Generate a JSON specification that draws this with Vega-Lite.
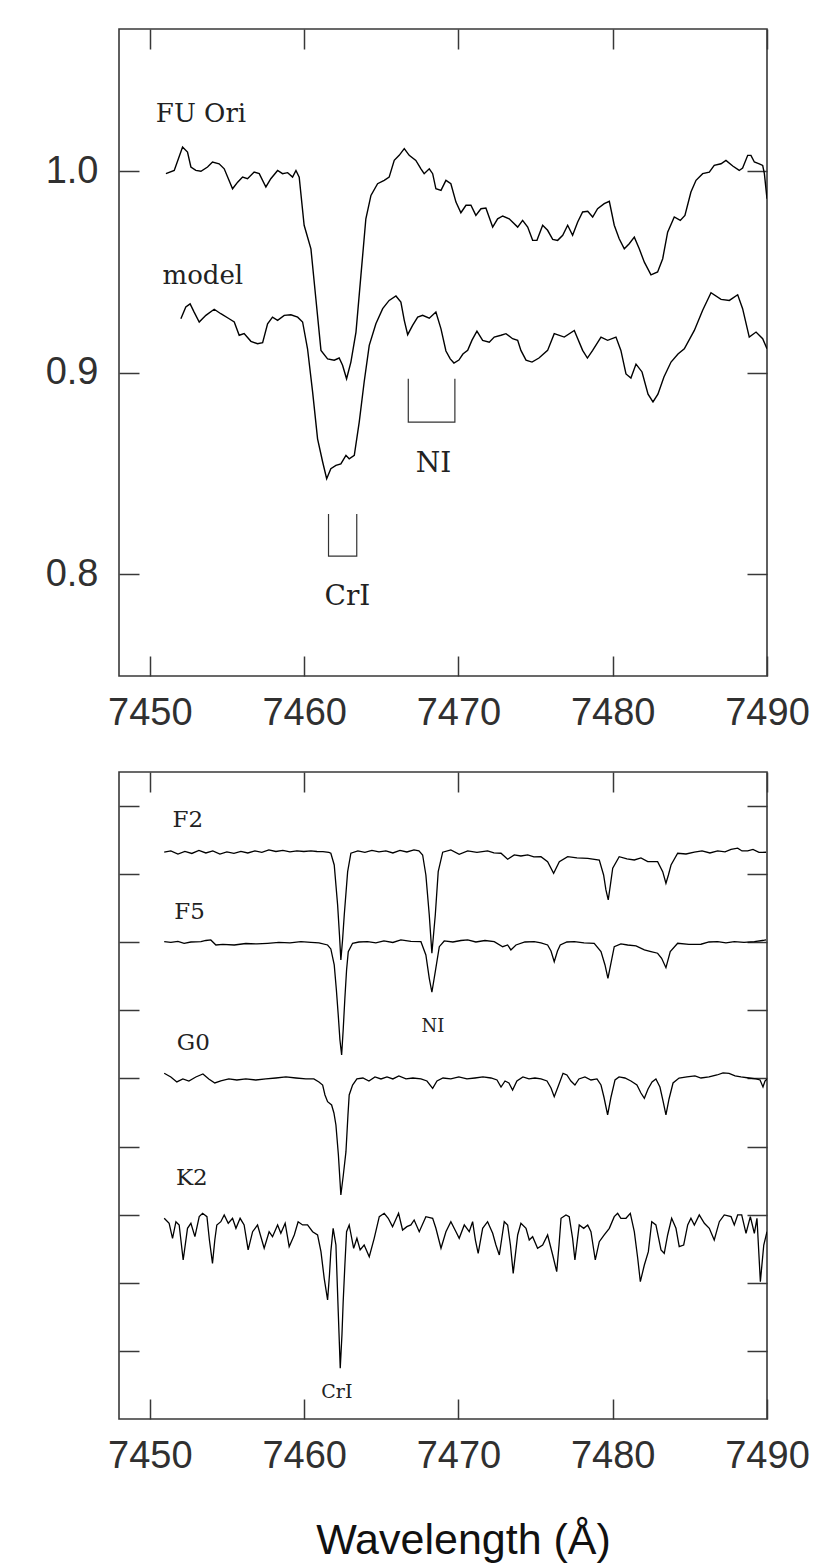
{
"$schema":"https://vega.github.io/schema/vega-lite/v6.json",
"background":"white",
"padding":{"left":44,"top":27,"right":16,"bottom":8},
"autosize":{"type":"pad"},
"spacing":37,
"config":{
 "view":{"stroke":"#383838","strokeWidth":1.6},
 "axis":{"domain":false,"grid":false,"tickColor":"#383838","tickWidth":1.5,"tickSize":20,"offset":-20,"labelFont":"Liberation Sans","labelFontSize":38,"labelColor":"#303030","labelFlush":false,"labelOverlap":false},
 "line":{"color":"black","strokeWidth":1.4},
 "text":{"font":"DejaVu Serif","color":"#222"}
},
"datasets":{
"top":[
{"s":"FU Ori","w":7451.04,"f":0.9987},{"s":"FU Ori","w":7451.58,"f":1.0003},{"s":"FU Ori","w":7452.12,"f":1.0119},{"s":"FU Ori","w":7452.44,"f":1.0094},{"s":"FU Ori","w":7452.66,"f":1.0020},{"s":"FU Ori","w":7452.98,"f":1.0003},{"s":"FU Ori","w":7453.31,"f":0.9999},{"s":"FU Ori","w":7453.74,"f":1.0020},{"s":"FU Ori","w":7454.06,"f":1.0045},{"s":"FU Ori","w":7454.49,"f":1.0036},{"s":"FU Ori","w":7454.82,"f":1.0011},{"s":"FU Ori","w":7455.36,"f":0.9912},{"s":"FU Ori","w":7455.69,"f":0.9945},{"s":"FU Ori","w":7456.01,"f":0.9970},{"s":"FU Ori","w":7456.33,"f":0.9962},{"s":"FU Ori","w":7456.76,"f":0.9995},{"s":"FU Ori","w":7457.09,"f":0.9987},{"s":"FU Ori","w":7457.52,"f":0.9921},{"s":"FU Ori","w":7457.84,"f":0.9962},{"s":"FU Ori","w":7458.28,"f":1.0003},{"s":"FU Ori","w":7458.60,"f":0.9987},{"s":"FU Ori","w":7458.93,"f":0.9992},{"s":"FU Ori","w":7459.25,"f":0.9970},{"s":"FU Ori","w":7459.47,"f":1.0003},{"s":"FU Ori","w":7459.68,"f":0.9970},{"s":"FU Ori","w":7460.00,"f":0.9731},{"s":"FU Ori","w":7460.44,"f":0.9614},{"s":"FU Ori","w":7460.76,"f":0.9366},{"s":"FU Ori","w":7461.09,"f":0.9110},{"s":"FU Ori","w":7461.52,"f":0.9068},{"s":"FU Ori","w":7461.95,"f":0.9061},{"s":"FU Ori","w":7462.27,"f":0.9072},{"s":"FU Ori","w":7462.49,"f":0.9036},{"s":"FU Ori","w":7462.75,"f":0.8969},{"s":"FU Ori","w":7463.03,"f":0.9052},{"s":"FU Ori","w":7463.36,"f":0.9201},{"s":"FU Ori","w":7463.68,"f":0.9482},{"s":"FU Ori","w":7464.00,"f":0.9763},{"s":"FU Ori","w":7464.33,"f":0.9879},{"s":"FU Ori","w":7464.76,"f":0.9937},{"s":"FU Ori","w":7465.19,"f":0.9954},{"s":"FU Ori","w":7465.51,"f":0.9970},{"s":"FU Ori","w":7465.84,"f":1.0053},{"s":"FU Ori","w":7466.16,"f":1.0078},{"s":"FU Ori","w":7466.49,"f":1.0111},{"s":"FU Ori","w":7466.81,"f":1.0078},{"s":"FU Ori","w":7467.24,"f":1.0053},{"s":"FU Ori","w":7467.57,"f":1.0011},{"s":"FU Ori","w":7467.78,"f":0.9987},{"s":"FU Ori","w":7468.11,"f":1.0011},{"s":"FU Ori","w":7468.33,"f":0.9987},{"s":"FU Ori","w":7468.54,"f":0.9912},{"s":"FU Ori","w":7468.87,"f":0.9904},{"s":"FU Ori","w":7469.19,"f":0.9954},{"s":"FU Ori","w":7469.51,"f":0.9937},{"s":"FU Ori","w":7469.84,"f":0.9846},{"s":"FU Ori","w":7470.16,"f":0.9793},{"s":"FU Ori","w":7470.49,"f":0.9830},{"s":"FU Ori","w":7470.81,"f":0.9830},{"s":"FU Ori","w":7471.13,"f":0.9780},{"s":"FU Ori","w":7471.46,"f":0.9813},{"s":"FU Ori","w":7471.78,"f":0.9816},{"s":"FU Ori","w":7472.22,"f":0.9722},{"s":"FU Ori","w":7472.54,"f":0.9763},{"s":"FU Ori","w":7472.87,"f":0.9777},{"s":"FU Ori","w":7473.29,"f":0.9763},{"s":"FU Ori","w":7473.84,"f":0.9722},{"s":"FU Ori","w":7474.16,"f":0.9755},{"s":"FU Ori","w":7474.49,"f":0.9722},{"s":"FU Ori","w":7474.81,"f":0.9656},{"s":"FU Ori","w":7475.09,"f":0.9656},{"s":"FU Ori","w":7475.46,"f":0.9731},{"s":"FU Ori","w":7475.78,"f":0.9706},{"s":"FU Ori","w":7476.11,"f":0.9661},{"s":"FU Ori","w":7476.43,"f":0.9656},{"s":"FU Ori","w":7476.76,"f":0.9681},{"s":"FU Ori","w":7477.08,"f":0.9731},{"s":"FU Ori","w":7477.40,"f":0.9681},{"s":"FU Ori","w":7477.73,"f":0.9747},{"s":"FU Ori","w":7478.05,"f":0.9797},{"s":"FU Ori","w":7478.38,"f":0.9800},{"s":"FU Ori","w":7478.70,"f":0.9772},{"s":"FU Ori","w":7479.02,"f":0.9813},{"s":"FU Ori","w":7479.45,"f":0.9838},{"s":"FU Ori","w":7479.78,"f":0.9850},{"s":"FU Ori","w":7480.10,"f":0.9731},{"s":"FU Ori","w":7480.42,"f":0.9664},{"s":"FU Ori","w":7480.75,"f":0.9614},{"s":"FU Ori","w":7481.07,"f":0.9639},{"s":"FU Ori","w":7481.40,"f":0.9672},{"s":"FU Ori","w":7481.72,"f":0.9614},{"s":"FU Ori","w":7482.05,"f":0.9548},{"s":"FU Ori","w":7482.48,"f":0.9485},{"s":"FU Ori","w":7482.91,"f":0.9499},{"s":"FU Ori","w":7483.24,"f":0.9565},{"s":"FU Ori","w":7483.56,"f":0.9697},{"s":"FU Ori","w":7483.99,"f":0.9772},{"s":"FU Ori","w":7484.38,"f":0.9755},{"s":"FU Ori","w":7484.68,"f":0.9780},{"s":"FU Ori","w":7485.07,"f":0.9896},{"s":"FU Ori","w":7485.40,"f":0.9954},{"s":"FU Ori","w":7485.83,"f":0.9987},{"s":"FU Ori","w":7486.26,"f":0.9995},{"s":"FU Ori","w":7486.58,"f":1.0028},{"s":"FU Ori","w":7487.02,"f":1.0036},{"s":"FU Ori","w":7487.34,"f":1.0053},{"s":"FU Ori","w":7487.78,"f":1.0025},{"s":"FU Ori","w":7488.20,"f":1.0003},{"s":"FU Ori","w":7488.42,"f":1.0015},{"s":"FU Ori","w":7488.75,"f":1.0078},{"s":"FU Ori","w":7488.96,"f":1.0078},{"s":"FU Ori","w":7489.18,"f":1.0045},{"s":"FU Ori","w":7489.50,"f":1.0036},{"s":"FU Ori","w":7489.72,"f":1.0028},{"s":"FU Ori","w":7489.83,"f":0.9987},{"s":"FU Ori","w":7490.00,"f":0.9863},
{"s":"model","w":7452.01,"f":0.9267},{"s":"model","w":7452.33,"f":0.9325},{"s":"model","w":7452.61,"f":0.9341},{"s":"model","w":7452.87,"f":0.9300},{"s":"model","w":7453.20,"f":0.9251},{"s":"model","w":7453.63,"f":0.9284},{"s":"model","w":7454.17,"f":0.9314},{"s":"model","w":7454.60,"f":0.9292},{"s":"model","w":7455.14,"f":0.9267},{"s":"model","w":7455.47,"f":0.9251},{"s":"model","w":7455.79,"f":0.9185},{"s":"model","w":7456.11,"f":0.9193},{"s":"model","w":7456.55,"f":0.9155},{"s":"model","w":7456.98,"f":0.9143},{"s":"model","w":7457.31,"f":0.9148},{"s":"model","w":7457.63,"f":0.9242},{"s":"model","w":7457.95,"f":0.9275},{"s":"model","w":7458.28,"f":0.9259},{"s":"model","w":7458.71,"f":0.9284},{"s":"model","w":7459.14,"f":0.9287},{"s":"model","w":7459.58,"f":0.9275},{"s":"model","w":7459.90,"f":0.9251},{"s":"model","w":7460.22,"f":0.9118},{"s":"model","w":7460.55,"f":0.8903},{"s":"model","w":7460.87,"f":0.8671},{"s":"model","w":7461.20,"f":0.8556},{"s":"model","w":7461.46,"f":0.8473},{"s":"model","w":7461.73,"f":0.8523},{"s":"model","w":7462.06,"f":0.8539},{"s":"model","w":7462.38,"f":0.8547},{"s":"model","w":7462.71,"f":0.8589},{"s":"model","w":7462.92,"f":0.8572},{"s":"model","w":7463.25,"f":0.8589},{"s":"model","w":7463.57,"f":0.8754},{"s":"model","w":7463.89,"f":0.8953},{"s":"model","w":7464.22,"f":0.9135},{"s":"model","w":7464.65,"f":0.9242},{"s":"model","w":7465.09,"f":0.9317},{"s":"model","w":7465.51,"f":0.9358},{"s":"model","w":7465.95,"f":0.9380},{"s":"model","w":7466.27,"f":0.9350},{"s":"model","w":7466.49,"f":0.9259},{"s":"model","w":7466.71,"f":0.9188},{"s":"model","w":7467.03,"f":0.9234},{"s":"model","w":7467.36,"f":0.9275},{"s":"model","w":7467.68,"f":0.9284},{"s":"model","w":7468.11,"f":0.9270},{"s":"model","w":7468.54,"f":0.9300},{"s":"model","w":7468.87,"f":0.9217},{"s":"model","w":7469.19,"f":0.9107},{"s":"model","w":7469.47,"f":0.9068},{"s":"model","w":7469.71,"f":0.9047},{"s":"model","w":7470.03,"f":0.9062},{"s":"model","w":7470.29,"f":0.9092},{"s":"model","w":7470.60,"f":0.9110},{"s":"model","w":7470.88,"f":0.9161},{"s":"model","w":7471.20,"f":0.9205},{"s":"model","w":7471.57,"f":0.9160},{"s":"model","w":7472.00,"f":0.9151},{"s":"model","w":7472.32,"f":0.9176},{"s":"model","w":7472.76,"f":0.9185},{"s":"model","w":7473.08,"f":0.9193},{"s":"model","w":7473.51,"f":0.9168},{"s":"model","w":7473.84,"f":0.9160},{"s":"model","w":7474.05,"f":0.9110},{"s":"model","w":7474.38,"f":0.9062},{"s":"model","w":7474.77,"f":0.9052},{"s":"model","w":7475.22,"f":0.9072},{"s":"model","w":7475.78,"f":0.9110},{"s":"model","w":7476.21,"f":0.9193},{"s":"model","w":7476.86,"f":0.9176},{"s":"model","w":7477.51,"f":0.9209},{"s":"model","w":7478.05,"f":0.9110},{"s":"model","w":7478.36,"f":0.9072},{"s":"model","w":7478.70,"f":0.9110},{"s":"model","w":7479.24,"f":0.9176},{"s":"model","w":7479.67,"f":0.9160},{"s":"model","w":7480.21,"f":0.9176},{"s":"model","w":7480.53,"f":0.9110},{"s":"model","w":7480.86,"f":0.8993},{"s":"model","w":7481.18,"f":0.8973},{"s":"model","w":7481.51,"f":0.9042},{"s":"model","w":7481.90,"f":0.9003},{"s":"model","w":7482.29,"f":0.8893},{"s":"model","w":7482.61,"f":0.8854},{"s":"model","w":7482.93,"f":0.8893},{"s":"model","w":7483.32,"f":0.8978},{"s":"model","w":7483.78,"f":0.9052},{"s":"model","w":7484.23,"f":0.9092},{"s":"model","w":7484.64,"f":0.9118},{"s":"model","w":7485.29,"f":0.9209},{"s":"model","w":7485.83,"f":0.9309},{"s":"model","w":7486.37,"f":0.9396},{"s":"model","w":7487.02,"f":0.9363},{"s":"model","w":7487.56,"f":0.9358},{"s":"model","w":7488.10,"f":0.9386},{"s":"model","w":7488.42,"f":0.9317},{"s":"model","w":7488.85,"f":0.9176},{"s":"model","w":7489.29,"f":0.9201},{"s":"model","w":7489.72,"f":0.9168},{"s":"model","w":7490.00,"f":0.9118}
],
"bot":[
{"s":"F2","w":7450.93,"f":0.8322},{"s":"F2","w":7451.36,"f":0.8341},{"s":"F2","w":7451.82,"f":0.8296},{"s":"F2","w":7452.27,"f":0.8333},{"s":"F2","w":7452.72,"f":0.8304},{"s":"F2","w":7453.18,"f":0.8348},{"s":"F2","w":7453.63,"f":0.8311},{"s":"F2","w":7454.08,"f":0.8341},{"s":"F2","w":7454.54,"f":0.8296},{"s":"F2","w":7454.99,"f":0.8326},{"s":"F2","w":7455.45,"f":0.8304},{"s":"F2","w":7455.90,"f":0.8333},{"s":"F2","w":7456.35,"f":0.8311},{"s":"F2","w":7456.81,"f":0.8341},{"s":"F2","w":7457.26,"f":0.8319},{"s":"F2","w":7457.71,"f":0.8355},{"s":"F2","w":7458.17,"f":0.8333},{"s":"F2","w":7458.62,"f":0.8348},{"s":"F2","w":7459.08,"f":0.8326},{"s":"F2","w":7459.53,"f":0.8341},{"s":"F2","w":7459.98,"f":0.8333},{"s":"F2","w":7460.44,"f":0.8341},{"s":"F2","w":7460.83,"f":0.8333},{"s":"F2","w":7461.22,"f":0.8332},{"s":"F2","w":7461.60,"f":0.8319},{"s":"F2","w":7461.73,"f":0.8307},{"s":"F2","w":7461.95,"f":0.8135},{"s":"F2","w":7462.17,"f":0.7548},{"s":"F2","w":7462.29,"f":0.7107},{"s":"F2","w":7462.38,"f":0.6740},{"s":"F2","w":7462.49,"f":0.7034},{"s":"F2","w":7462.60,"f":0.7401},{"s":"F2","w":7462.82,"f":0.8037},{"s":"F2","w":7463.03,"f":0.8307},{"s":"F2","w":7463.48,"f":0.8341},{"s":"F2","w":7463.94,"f":0.8319},{"s":"F2","w":7464.39,"f":0.8348},{"s":"F2","w":7464.85,"f":0.8326},{"s":"F2","w":7465.30,"f":0.8341},{"s":"F2","w":7465.75,"f":0.8311},{"s":"F2","w":7466.21,"f":0.8348},{"s":"F2","w":7466.66,"f":0.8326},{"s":"F2","w":7467.12,"f":0.8355},{"s":"F2","w":7467.44,"f":0.8341},{"s":"F2","w":7467.68,"f":0.8282},{"s":"F2","w":7467.89,"f":0.7988},{"s":"F2","w":7468.11,"f":0.7401},{"s":"F2","w":7468.28,"f":0.6839},{"s":"F2","w":7468.50,"f":0.7401},{"s":"F2","w":7468.69,"f":0.8037},{"s":"F2","w":7468.98,"f":0.8322},{"s":"F2","w":7469.51,"f":0.8355},{"s":"F2","w":7470.05,"f":0.8292},{"s":"F2","w":7470.60,"f":0.8341},{"s":"F2","w":7471.20,"f":0.8319},{"s":"F2","w":7471.89,"f":0.8341},{"s":"F2","w":7472.30,"f":0.8311},{"s":"F2","w":7472.76,"f":0.8307},{"s":"F2","w":7473.19,"f":0.8219},{"s":"F2","w":7473.62,"f":0.8282},{"s":"F2","w":7474.05,"f":0.8267},{"s":"F2","w":7474.49,"f":0.8282},{"s":"F2","w":7474.89,"f":0.8253},{"s":"F2","w":7475.35,"f":0.8257},{"s":"F2","w":7475.78,"f":0.8184},{"s":"F2","w":7476.17,"f":0.8013},{"s":"F2","w":7476.54,"f":0.8184},{"s":"F2","w":7477.08,"f":0.8257},{"s":"F2","w":7477.68,"f":0.8238},{"s":"F2","w":7478.38,"f":0.8233},{"s":"F2","w":7479.13,"f":0.8208},{"s":"F2","w":7479.41,"f":0.7988},{"s":"F2","w":7479.56,"f":0.7768},{"s":"F2","w":7479.71,"f":0.7621},{"s":"F2","w":7479.85,"f":0.7842},{"s":"F2","w":7480.00,"f":0.8087},{"s":"F2","w":7480.42,"f":0.8257},{"s":"F2","w":7480.92,"f":0.8223},{"s":"F2","w":7481.40,"f":0.8208},{"s":"F2","w":7481.83,"f":0.8238},{"s":"F2","w":7482.27,"f":0.8184},{"s":"F2","w":7482.91,"f":0.8184},{"s":"F2","w":7483.24,"f":0.8037},{"s":"F2","w":7483.45,"f":0.7866},{"s":"F2","w":7483.61,"f":0.7988},{"s":"F2","w":7483.78,"f":0.8135},{"s":"F2","w":7484.21,"f":0.8307},{"s":"F2","w":7484.75,"f":0.8296},{"s":"F2","w":7485.29,"f":0.8322},{"s":"F2","w":7485.79,"f":0.8341},{"s":"F2","w":7486.30,"f":0.8311},{"s":"F2","w":7486.80,"f":0.8341},{"s":"F2","w":7487.28,"f":0.8326},{"s":"F2","w":7487.67,"f":0.8363},{"s":"F2","w":7488.10,"f":0.8381},{"s":"F2","w":7488.38,"f":0.8341},{"s":"F2","w":7488.75,"f":0.8341},{"s":"F2","w":7489.09,"f":0.8363},{"s":"F2","w":7489.48,"f":0.8319},{"s":"F2","w":7489.94,"f":0.8322},
{"s":"F5","w":7450.93,"f":0.7009},{"s":"F5","w":7451.36,"f":0.6997},{"s":"F5","w":7451.82,"f":0.7012},{"s":"F5","w":7452.22,"f":0.6985},{"s":"F5","w":7452.66,"f":0.7004},{"s":"F5","w":7453.31,"f":0.7009},{"s":"F5","w":7453.63,"f":0.7026},{"s":"F5","w":7453.95,"f":0.7034},{"s":"F5","w":7454.28,"f":0.6960},{"s":"F5","w":7454.73,"f":0.6968},{"s":"F5","w":7455.47,"f":0.6960},{"s":"F5","w":7456.22,"f":0.6982},{"s":"F5","w":7456.94,"f":0.6975},{"s":"F5","w":7457.63,"f":0.6985},{"s":"F5","w":7458.36,"f":0.6997},{"s":"F5","w":7459.08,"f":0.6990},{"s":"F5","w":7459.79,"f":0.7009},{"s":"F5","w":7460.44,"f":0.6997},{"s":"F5","w":7460.96,"f":0.6990},{"s":"F5","w":7461.52,"f":0.6960},{"s":"F5","w":7461.73,"f":0.6902},{"s":"F5","w":7461.95,"f":0.6667},{"s":"F5","w":7462.09,"f":0.6300},{"s":"F5","w":7462.21,"f":0.5932},{"s":"F5","w":7462.32,"f":0.5565},{"s":"F5","w":7462.43,"f":0.5345},{"s":"F5","w":7462.53,"f":0.5712},{"s":"F5","w":7462.64,"f":0.6178},{"s":"F5","w":7462.75,"f":0.6593},{"s":"F5","w":7462.86,"f":0.6862},{"s":"F5","w":7463.14,"f":0.6985},{"s":"F5","w":7463.55,"f":0.7004},{"s":"F5","w":7464.11,"f":0.7009},{"s":"F5","w":7464.65,"f":0.6990},{"s":"F5","w":7465.17,"f":0.7019},{"s":"F5","w":7465.75,"f":0.6997},{"s":"F5","w":7466.27,"f":0.7034},{"s":"F5","w":7466.92,"f":0.7012},{"s":"F5","w":7467.57,"f":0.7009},{"s":"F5","w":7467.89,"f":0.6813},{"s":"F5","w":7468.11,"f":0.6471},{"s":"F5","w":7468.28,"f":0.6266},{"s":"F5","w":7468.50,"f":0.6568},{"s":"F5","w":7468.76,"f":0.6935},{"s":"F5","w":7469.08,"f":0.7019},{"s":"F5","w":7469.64,"f":0.7004},{"s":"F5","w":7470.16,"f":0.7026},{"s":"F5","w":7470.60,"f":0.7034},{"s":"F5","w":7471.13,"f":0.7004},{"s":"F5","w":7471.72,"f":0.7026},{"s":"F5","w":7472.32,"f":0.7009},{"s":"F5","w":7472.87,"f":0.6935},{"s":"F5","w":7473.19,"f":0.6960},{"s":"F5","w":7473.40,"f":0.6887},{"s":"F5","w":7473.73,"f":0.6960},{"s":"F5","w":7474.31,"f":0.7004},{"s":"F5","w":7474.91,"f":0.7009},{"s":"F5","w":7475.35,"f":0.6990},{"s":"F5","w":7475.78,"f":0.6960},{"s":"F5","w":7476.00,"f":0.6872},{"s":"F5","w":7476.21,"f":0.6715},{"s":"F5","w":7476.42,"f":0.6872},{"s":"F5","w":7476.60,"f":0.6960},{"s":"F5","w":7477.03,"f":0.7004},{"s":"F5","w":7477.51,"f":0.7009},{"s":"F5","w":7478.14,"f":0.6990},{"s":"F5","w":7478.80,"f":0.6985},{"s":"F5","w":7479.24,"f":0.6862},{"s":"F5","w":7479.50,"f":0.6667},{"s":"F5","w":7479.69,"f":0.6471},{"s":"F5","w":7479.89,"f":0.6696},{"s":"F5","w":7480.10,"f":0.6935},{"s":"F5","w":7480.53,"f":0.6975},{"s":"F5","w":7480.97,"f":0.6960},{"s":"F5","w":7481.51,"f":0.6946},{"s":"F5","w":7482.05,"f":0.6887},{"s":"F5","w":7482.48,"f":0.6862},{"s":"F5","w":7482.91,"f":0.6839},{"s":"F5","w":7483.17,"f":0.6765},{"s":"F5","w":7483.45,"f":0.6627},{"s":"F5","w":7483.73,"f":0.6862},{"s":"F5","w":7484.21,"f":0.6985},{"s":"F5","w":7484.94,"f":0.6968},{"s":"F5","w":7485.72,"f":0.6971},{"s":"F5","w":7486.24,"f":0.7004},{"s":"F5","w":7486.80,"f":0.7009},{"s":"F5","w":7487.34,"f":0.6990},{"s":"F5","w":7487.88,"f":0.7009},{"s":"F5","w":7488.51,"f":0.6997},{"s":"F5","w":7489.18,"f":0.7009},{"s":"F5","w":7489.94,"f":0.7034},
{"s":"G0","w":7450.93,"f":0.5076},{"s":"G0","w":7451.36,"f":0.5022},{"s":"G0","w":7451.75,"f":0.4949},{"s":"G0","w":7452.14,"f":0.4993},{"s":"G0","w":7452.53,"f":0.4963},{"s":"G0","w":7452.98,"f":0.5022},{"s":"G0","w":7453.44,"f":0.5066},{"s":"G0","w":7453.82,"f":0.4993},{"s":"G0","w":7454.21,"f":0.4934},{"s":"G0","w":7454.60,"f":0.4963},{"s":"G0","w":7455.12,"f":0.4993},{"s":"G0","w":7455.64,"f":0.4978},{"s":"G0","w":7456.22,"f":0.4993},{"s":"G0","w":7456.87,"f":0.4978},{"s":"G0","w":7457.52,"f":0.4993},{"s":"G0","w":7458.17,"f":0.5007},{"s":"G0","w":7458.82,"f":0.5022},{"s":"G0","w":7459.47,"f":0.5007},{"s":"G0","w":7460.11,"f":0.4993},{"s":"G0","w":7460.63,"f":0.4993},{"s":"G0","w":7460.96,"f":0.4949},{"s":"G0","w":7461.20,"f":0.4904},{"s":"G0","w":7461.35,"f":0.4758},{"s":"G0","w":7461.52,"f":0.4659},{"s":"G0","w":7461.78,"f":0.4611},{"s":"G0","w":7461.93,"f":0.4493},{"s":"G0","w":7462.06,"f":0.4317},{"s":"G0","w":7462.22,"f":0.3877},{"s":"G0","w":7462.38,"f":0.3289},{"s":"G0","w":7462.54,"f":0.3583},{"s":"G0","w":7462.71,"f":0.3925},{"s":"G0","w":7462.84,"f":0.4464},{"s":"G0","w":7462.92,"f":0.4758},{"s":"G0","w":7463.14,"f":0.4904},{"s":"G0","w":7463.42,"f":0.4993},{"s":"G0","w":7463.81,"f":0.5007},{"s":"G0","w":7464.20,"f":0.4963},{"s":"G0","w":7464.59,"f":0.5022},{"s":"G0","w":7464.98,"f":0.4993},{"s":"G0","w":7465.37,"f":0.5022},{"s":"G0","w":7465.75,"f":0.4993},{"s":"G0","w":7466.14,"f":0.5037},{"s":"G0","w":7466.60,"f":0.4993},{"s":"G0","w":7467.05,"f":0.5007},{"s":"G0","w":7467.57,"f":0.4993},{"s":"G0","w":7467.96,"f":0.4963},{"s":"G0","w":7468.33,"f":0.4856},{"s":"G0","w":7468.61,"f":0.4963},{"s":"G0","w":7469.00,"f":0.5007},{"s":"G0","w":7469.51,"f":0.4993},{"s":"G0","w":7470.03,"f":0.5022},{"s":"G0","w":7470.55,"f":0.4993},{"s":"G0","w":7471.07,"f":0.5007},{"s":"G0","w":7471.59,"f":0.5022},{"s":"G0","w":7472.11,"f":0.5007},{"s":"G0","w":7472.50,"f":0.4978},{"s":"G0","w":7472.76,"f":0.4875},{"s":"G0","w":7473.02,"f":0.4963},{"s":"G0","w":7473.27,"f":0.4934},{"s":"G0","w":7473.51,"f":0.4831},{"s":"G0","w":7473.79,"f":0.4963},{"s":"G0","w":7474.18,"f":0.5022},{"s":"G0","w":7474.57,"f":0.4993},{"s":"G0","w":7474.96,"f":0.5007},{"s":"G0","w":7475.35,"f":0.4993},{"s":"G0","w":7475.74,"f":0.4963},{"s":"G0","w":7476.00,"f":0.4860},{"s":"G0","w":7476.21,"f":0.4733},{"s":"G0","w":7476.45,"f":0.4875},{"s":"G0","w":7476.78,"f":0.5076},{"s":"G0","w":7477.03,"f":0.5051},{"s":"G0","w":7477.29,"f":0.4963},{"s":"G0","w":7477.55,"f":0.4904},{"s":"G0","w":7477.81,"f":0.4993},{"s":"G0","w":7478.20,"f":0.5022},{"s":"G0","w":7478.59,"f":0.4978},{"s":"G0","w":7478.98,"f":0.4993},{"s":"G0","w":7479.24,"f":0.4904},{"s":"G0","w":7479.43,"f":0.4728},{"s":"G0","w":7479.67,"f":0.4464},{"s":"G0","w":7479.89,"f":0.4728},{"s":"G0","w":7480.15,"f":0.4978},{"s":"G0","w":7480.41,"f":0.5022},{"s":"G0","w":7480.79,"f":0.5007},{"s":"G0","w":7481.18,"f":0.4963},{"s":"G0","w":7481.57,"f":0.4904},{"s":"G0","w":7481.83,"f":0.4787},{"s":"G0","w":7482.05,"f":0.4709},{"s":"G0","w":7482.29,"f":0.4846},{"s":"G0","w":7482.55,"f":0.4949},{"s":"G0","w":7482.80,"f":0.4993},{"s":"G0","w":7483.06,"f":0.4875},{"s":"G0","w":7483.26,"f":0.4670},{"s":"G0","w":7483.45,"f":0.4464},{"s":"G0","w":7483.65,"f":0.4699},{"s":"G0","w":7483.91,"f":0.4934},{"s":"G0","w":7484.30,"f":0.5007},{"s":"G0","w":7484.81,"f":0.5022},{"s":"G0","w":7485.33,"f":0.5037},{"s":"G0","w":7485.72,"f":0.5007},{"s":"G0","w":7486.24,"f":0.5022},{"s":"G0","w":7486.76,"f":0.5051},{"s":"G0","w":7487.15,"f":0.5081},{"s":"G0","w":7487.54,"f":0.5076},{"s":"G0","w":7487.93,"f":0.5037},{"s":"G0","w":7488.31,"f":0.5022},{"s":"G0","w":7488.83,"f":0.5007},{"s":"G0","w":7489.29,"f":0.4993},{"s":"G0","w":7489.55,"f":0.4978},{"s":"G0","w":7489.74,"f":0.4875},{"s":"G0","w":7489.87,"f":0.4963},{"s":"G0","w":7490.00,"f":0.4993},
{"s":"K2","w":7450.93,"f":0.2947},{"s":"K2","w":7451.25,"f":0.2874},{"s":"K2","w":7451.47,"f":0.2653},{"s":"K2","w":7451.69,"f":0.2897},{"s":"K2","w":7451.90,"f":0.2849},{"s":"K2","w":7452.16,"f":0.2335},{"s":"K2","w":7452.44,"f":0.2800},{"s":"K2","w":7452.66,"f":0.2874},{"s":"K2","w":7452.92,"f":0.2677},{"s":"K2","w":7453.20,"f":0.2971},{"s":"K2","w":7453.42,"f":0.3020},{"s":"K2","w":7453.70,"f":0.2971},{"s":"K2","w":7453.86,"f":0.2628},{"s":"K2","w":7454.06,"f":0.2286},{"s":"K2","w":7454.21,"f":0.2628},{"s":"K2","w":7454.34,"f":0.2849},{"s":"K2","w":7454.60,"f":0.2897},{"s":"K2","w":7454.82,"f":0.2996},{"s":"K2","w":7455.08,"f":0.2874},{"s":"K2","w":7455.36,"f":0.2947},{"s":"K2","w":7455.58,"f":0.2800},{"s":"K2","w":7455.85,"f":0.2947},{"s":"K2","w":7456.11,"f":0.2849},{"s":"K2","w":7456.37,"f":0.2482},{"s":"K2","w":7456.66,"f":0.2750},{"s":"K2","w":7456.98,"f":0.2849},{"s":"K2","w":7457.20,"f":0.2673},{"s":"K2","w":7457.41,"f":0.2507},{"s":"K2","w":7457.73,"f":0.2750},{"s":"K2","w":7457.95,"f":0.2677},{"s":"K2","w":7458.28,"f":0.2849},{"s":"K2","w":7458.49,"f":0.2727},{"s":"K2","w":7458.77,"f":0.2874},{"s":"K2","w":7459.03,"f":0.2530},{"s":"K2","w":7459.36,"f":0.2702},{"s":"K2","w":7459.61,"f":0.2897},{"s":"K2","w":7459.90,"f":0.2849},{"s":"K2","w":7460.22,"f":0.2849},{"s":"K2","w":7460.55,"f":0.2750},{"s":"K2","w":7460.87,"f":0.2702},{"s":"K2","w":7461.09,"f":0.2457},{"s":"K2","w":7461.30,"f":0.2066},{"s":"K2","w":7461.52,"f":0.1747},{"s":"K2","w":7461.64,"f":0.2115},{"s":"K2","w":7461.73,"f":0.2457},{"s":"K2","w":7461.88,"f":0.2800},{"s":"K2","w":7462.06,"f":0.2555},{"s":"K2","w":7462.21,"f":0.1576},{"s":"K2","w":7462.34,"f":0.0744},{"s":"K2","w":7462.45,"f":0.1233},{"s":"K2","w":7462.53,"f":0.1722},{"s":"K2","w":7462.64,"f":0.2261},{"s":"K2","w":7462.75,"f":0.2750},{"s":"K2","w":7462.92,"f":0.2849},{"s":"K2","w":7463.21,"f":0.2507},{"s":"K2","w":7463.42,"f":0.2653},{"s":"K2","w":7463.63,"f":0.2482},{"s":"K2","w":7463.89,"f":0.2555},{"s":"K2","w":7464.22,"f":0.2383},{"s":"K2","w":7464.54,"f":0.2653},{"s":"K2","w":7464.87,"f":0.2971},{"s":"K2","w":7465.19,"f":0.3020},{"s":"K2","w":7465.45,"f":0.2947},{"s":"K2","w":7465.73,"f":0.2824},{"s":"K2","w":7466.12,"f":0.3020},{"s":"K2","w":7466.38,"f":0.2775},{"s":"K2","w":7466.66,"f":0.2824},{"s":"K2","w":7466.92,"f":0.2849},{"s":"K2","w":7467.13,"f":0.2922},{"s":"K2","w":7467.46,"f":0.2750},{"s":"K2","w":7467.89,"f":0.2971},{"s":"K2","w":7468.33,"f":0.2947},{"s":"K2","w":7468.54,"f":0.2800},{"s":"K2","w":7468.87,"f":0.2507},{"s":"K2","w":7469.19,"f":0.2750},{"s":"K2","w":7469.51,"f":0.2897},{"s":"K2","w":7469.84,"f":0.2750},{"s":"K2","w":7470.05,"f":0.2653},{"s":"K2","w":7470.38,"f":0.2849},{"s":"K2","w":7470.70,"f":0.2750},{"s":"K2","w":7470.92,"f":0.2897},{"s":"K2","w":7471.10,"f":0.2628},{"s":"K2","w":7471.28,"f":0.2433},{"s":"K2","w":7471.57,"f":0.2800},{"s":"K2","w":7471.89,"f":0.2897},{"s":"K2","w":7472.22,"f":0.2727},{"s":"K2","w":7472.43,"f":0.2555},{"s":"K2","w":7472.65,"f":0.2408},{"s":"K2","w":7472.97,"f":0.2897},{"s":"K2","w":7473.19,"f":0.2849},{"s":"K2","w":7473.37,"f":0.2555},{"s":"K2","w":7473.55,"f":0.2139},{"s":"K2","w":7473.84,"f":0.2702},{"s":"K2","w":7474.05,"f":0.2874},{"s":"K2","w":7474.38,"f":0.2800},{"s":"K2","w":7474.59,"f":0.2628},{"s":"K2","w":7474.81,"f":0.2677},{"s":"K2","w":7475.13,"f":0.2507},{"s":"K2","w":7475.46,"f":0.2555},{"s":"K2","w":7475.78,"f":0.2702},{"s":"K2","w":7476.11,"f":0.2408},{"s":"K2","w":7476.37,"f":0.2163},{"s":"K2","w":7476.52,"f":0.2555},{"s":"K2","w":7476.65,"f":0.2947},{"s":"K2","w":7476.97,"f":0.2996},{"s":"K2","w":7477.18,"f":0.2971},{"s":"K2","w":7477.40,"f":0.2653},{"s":"K2","w":7477.55,"f":0.2335},{"s":"K2","w":7477.83,"f":0.2849},{"s":"K2","w":7478.12,"f":0.2800},{"s":"K2","w":7478.38,"f":0.2849},{"s":"K2","w":7478.59,"f":0.2750},{"s":"K2","w":7478.87,"f":0.2335},{"s":"K2","w":7479.13,"f":0.2604},{"s":"K2","w":7479.45,"f":0.2702},{"s":"K2","w":7479.78,"f":0.2800},{"s":"K2","w":7480.10,"f":0.2971},{"s":"K2","w":7480.32,"f":0.3020},{"s":"K2","w":7480.53,"f":0.2947},{"s":"K2","w":7480.86,"f":0.2947},{"s":"K2","w":7481.14,"f":0.3020},{"s":"K2","w":7481.40,"f":0.2750},{"s":"K2","w":7481.62,"f":0.2360},{"s":"K2","w":7481.79,"f":0.2016},{"s":"K2","w":7482.05,"f":0.2261},{"s":"K2","w":7482.31,"f":0.2457},{"s":"K2","w":7482.53,"f":0.2897},{"s":"K2","w":7482.80,"f":0.2849},{"s":"K2","w":7483.13,"f":0.2482},{"s":"K2","w":7483.34,"f":0.2433},{"s":"K2","w":7483.56,"f":0.2702},{"s":"K2","w":7483.82,"f":0.2947},{"s":"K2","w":7484.10,"f":0.2800},{"s":"K2","w":7484.31,"f":0.2530},{"s":"K2","w":7484.60,"f":0.2555},{"s":"K2","w":7484.86,"f":0.2849},{"s":"K2","w":7485.07,"f":0.2947},{"s":"K2","w":7485.29,"f":0.2849},{"s":"K2","w":7485.61,"f":0.2996},{"s":"K2","w":7485.94,"f":0.2874},{"s":"K2","w":7486.26,"f":0.2800},{"s":"K2","w":7486.58,"f":0.2628},{"s":"K2","w":7486.91,"f":0.2897},{"s":"K2","w":7487.23,"f":0.2996},{"s":"K2","w":7487.67,"f":0.2971},{"s":"K2","w":7487.88,"f":0.2849},{"s":"K2","w":7488.10,"f":0.2996},{"s":"K2","w":7488.36,"f":0.2996},{"s":"K2","w":7488.64,"f":0.2727},{"s":"K2","w":7488.92,"f":0.2971},{"s":"K2","w":7489.18,"f":0.2727},{"s":"K2","w":7489.35,"f":0.2947},{"s":"K2","w":7489.57,"f":0.2016},{"s":"K2","w":7489.79,"f":0.2555},{"s":"K2","w":7490.00,"f":0.2750}
]
},
"vconcat":[
 {"width":648,"height":647,
  "resolve":{"axis":{"x":"independent","y":"independent"}},
  "layer":[
   {"data":{"name":"top"},"mark":{"type":"line","clip":true},
    "encoding":{
     "x":{"field":"w","type":"quantitative","scale":{"domain":[7448,7490],"nice":false,"zero":false},"axis":{"orient":"bottom","values":[7450,7460,7470,7480,7490],"format":"d","labelPadding":18,"title":null}},
     "y":{"field":"f","type":"quantitative","scale":{"domain":[0.7494,1.0705],"nice":false,"zero":false},"axis":{"orient":"left","values":[0.8,0.9,1.0],"format":".1f","labelPadding":21,"title":null}},
     "detail":{"field":"s"}}},
   {"data":{"values":[
     {"b":"CrI","o":1,"w":7461.58,"f":0.8298},{"b":"CrI","o":2,"w":7461.58,"f":0.8089},{"b":"CrI","o":3,"w":7463.41,"f":0.8089},{"b":"CrI","o":4,"w":7463.41,"f":0.8298},
     {"b":"NI","o":1,"w":7466.75,"f":0.8969},{"b":"NI","o":2,"w":7466.75,"f":0.8754},{"b":"NI","o":3,"w":7469.77,"f":0.8754},{"b":"NI","o":4,"w":7469.77,"f":0.8969}]},
    "mark":{"type":"line","strokeWidth":1.2,"color":"#333"},
    "encoding":{
     "x":{"field":"w","type":"quantitative","axis":{"orient":"top","values":[7450,7460,7470,7480,7490],"labels":false,"title":null}},
     "y":{"field":"f","type":"quantitative","axis":{"orient":"right","values":[0.8,0.9,1.0],"labels":false,"title":null}},
     "detail":{"field":"b"},"order":{"field":"o"}}},
   {"data":{"values":[{"t":"FU Ori","w":7450.39,"f":1.0243},{"t":"model","w":7450.82,"f":0.944}]},
    "mark":{"type":"text","align":"left","baseline":"alphabetic","fontSize":26},
    "encoding":{"x":{"field":"w","type":"quantitative","axis":null},"y":{"field":"f","type":"quantitative","axis":null},"text":{"field":"t"}}},
   {"data":{"values":[{"t":"NI","w":7468.38,"f":0.8506},{"t":"CrI","w":7462.81,"f":0.7845}]},
    "mark":{"type":"text","align":"center","baseline":"alphabetic","fontSize":28},
    "encoding":{"x":{"field":"w","type":"quantitative","axis":null},"y":{"field":"f","type":"quantitative","axis":null},"text":{"field":"t"}}}
  ]},
 {"width":648,"height":647,
  "resolve":{"axis":{"x":"independent","y":"independent"}},
  "layer":[
   {"data":{"name":"bot"},"mark":{"type":"line","clip":true,"strokeWidth":1.3},
    "encoding":{
     "x":{"field":"w","type":"quantitative","scale":{"domain":[7448,7490],"nice":false,"zero":false},"axis":{"orient":"bottom","values":[7450,7460,7470,7480,7490],"format":"d","labelPadding":18,"title":"Wavelength (Å)","titleFont":"Liberation Sans","titleFontSize":43,"titleFontWeight":"normal","titleColor":"#111","titleX":344,"titleY":154,"titleAlign":"center","titleBaseline":"alphabetic"}},
     "y":{"field":"f","type":"quantitative","scale":{"domain":[0,0.95],"nice":false,"zero":false},"axis":{"orient":"left","values":[0.1,0.2,0.3,0.4,0.5,0.6,0.7,0.8,0.9],"labels":false,"title":null}},
     "detail":{"field":"s"}}},
   {"data":{"values":[{"t":"F2","w":7451.47,"f":0.869},{"t":"F5","w":7451.58,"f":0.734},{"t":"G0","w":7451.75,"f":0.542},{"t":"K2","w":7451.69,"f":0.3436}]},
    "mark":{"type":"text","align":"left","baseline":"alphabetic","fontSize":23},
    "encoding":{
     "x":{"field":"w","type":"quantitative","axis":{"orient":"top","values":[7450,7460,7470,7480,7490],"labels":false,"title":null}},
     "y":{"field":"f","type":"quantitative","axis":{"orient":"right","values":[0.1,0.2,0.3,0.4,0.5,0.6,0.7,0.8,0.9],"labels":false,"title":null}},
     "text":{"field":"t"}}},
   {"data":{"values":[{"t":"NI","w":7468.35,"f":0.5687}]},
    "mark":{"type":"text","align":"center","baseline":"alphabetic","fontSize":18},
    "encoding":{"x":{"field":"w","type":"quantitative","axis":null},"y":{"field":"f","type":"quantitative","axis":null},"text":{"field":"t"}}},
   {"data":{"values":[{"t":"CrI","w":7462.12,"f":0.0308}]},
    "mark":{"type":"text","align":"center","baseline":"alphabetic","fontSize":19},
    "encoding":{"x":{"field":"w","type":"quantitative","axis":null},"y":{"field":"f","type":"quantitative","axis":null},"text":{"field":"t"}}}
  ]}
]
}
